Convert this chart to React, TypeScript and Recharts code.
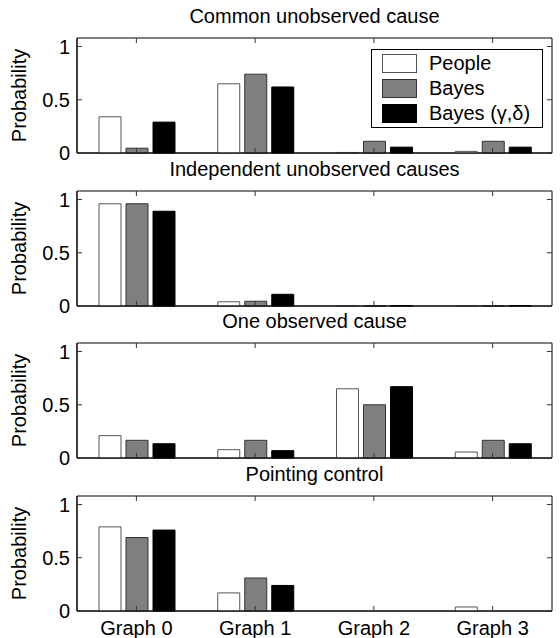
import { BarChart, Bar, XAxis, YAxis, ReferenceArea, Legend } from 'recharts';

const graphs = ['Graph 0', 'Graph 1', 'Graph 2', 'Graph 3'];
const titles = ['Common unobserved cause', 'Independent unobserved causes', 'One observed cause', 'Pointing control'];
const yTicks = [0, 0.5, 1];

const commonPeople = [0.34, 0.65, 0.005, 0.015];
const commonBayes = [0.045, 0.74, 0.11, 0.11];
const commonBayesGD = [0.29, 0.62, 0.055, 0.055];

const independentPeople = [0.96, 0.04, 0.002, 0.002];
const independentBayes = [0.96, 0.045, 0.003, 0.003];
const independentBayesGD = [0.89, 0.11, 0.003, 0.003];

const observedPeople = [0.21, 0.078, 0.65, 0.056];
const observedBayes = [0.166, 0.166, 0.5, 0.166];
const observedBayesGD = [0.134, 0.069, 0.67, 0.134];

const pointingPeople = [0.79, 0.17, 0, 0.038];
const pointingBayes = [0.69, 0.31, 0, 0];
const pointingBayesGD = [0.76, 0.24, 0, 0];

const panels = [
  [commonPeople, commonBayes, commonBayesGD],
  [independentPeople, independentBayes, independentBayesGD],
  [observedPeople, observedBayes, observedBayesGD],
  [pointingPeople, pointingBayes, pointingBayesGD],
];

const series = [
  { key: 'people', name: 'People', fill: '#ffffff', stroke: '#555555' },
  { key: 'bayes', name: 'Bayes', fill: '#7f7f7f', stroke: '#333333' },
  { key: 'bayesGD', name: 'Bayes (γ,δ)', fill: '#000000', stroke: '#000000' },
];

const FONT = '"Liberation Sans", Arial, Helvetica, sans-serif';
const PANEL_TOPS = [38, 191, 343, 496];
const PLOT_LEFT = 77;
const PLOT_RIGHT = 552;
const PLOT_TOP = 10;
const PLOT_H = 115;
const Y_MAX = 1.08;

const YTick = ({ x, y, payload }: any) => (
  <g>
    <line x1={PLOT_LEFT} x2={PLOT_LEFT + 5} y1={y} y2={y} stroke="#333" />
    <line x1={PLOT_RIGHT} x2={PLOT_RIGHT - 5} y1={y} y2={y} stroke="#333" />
    <text x={x} y={y} dy="0.36em" textAnchor="end" fontSize={20} fill="#000" fontFamily={FONT}>
      {payload.value}
    </text>
  </g>
);

const XTick = ({ x, payload, showLabel }: any) => {
  const bottom = PLOT_TOP + PLOT_H;
  return (
    <g>
      <line x1={x} x2={x} y1={bottom} y2={bottom - 5} stroke="#333" />
      <line x1={x} x2={x} y1={PLOT_TOP} y2={PLOT_TOP + 5} stroke="#333" />
      {showLabel && (
        <text x={x} y={bottom + 10} dy="0.71em" textAnchor="middle" fontSize={20} fill="#000" fontFamily={FONT}>
          {payload.value}
        </text>
      )}
    </g>
  );
};

const LegendBox = () => (
  <div style={{ width: 170, height: 77, border: '1px solid #000', background: '#fff', position: 'relative', fontFamily: FONT }}>
    {series.map((s, i) => (
      <div key={s.key} style={{ position: 'absolute', left: 10, top: 4 + i * 25, height: 19, display: 'flex', alignItems: 'center' }}>
        <span style={{ display: 'block', width: 33, height: 17, background: s.fill, border: `1px solid ${s.stroke}` }} />
        <span style={{ marginLeft: 12, fontSize: 20, lineHeight: '19px', color: '#000', whiteSpace: 'nowrap' }}>{s.name}</span>
      </div>
    ))}
  </div>
);

const App = () => (
  <div style={{ position: 'absolute', left: 0, top: 0, width: 560, height: 638, background: '#fff', fontFamily: FONT }}>
    {panels.map((values, p) => {
      const data = graphs.map((name, i) => ({
        name,
        people: values[0][i],
        bayes: values[1][i],
        bayesGD: values[2][i],
      }));
      return (
        <div key={titles[p]}>
          <div
            style={{
              position: 'absolute',
              left: PLOT_LEFT,
              width: PLOT_RIGHT - PLOT_LEFT,
              top: PANEL_TOPS[p] - 32,
              textAlign: 'center',
              fontSize: 20,
              lineHeight: '20px',
              color: '#000',
            }}
          >
            {titles[p]}
          </div>
          <div style={{ position: 'absolute', left: 0, top: PANEL_TOPS[p] - PLOT_TOP }}>
            <BarChart
              width={560}
              height={160}
              data={data}
              margin={{ top: PLOT_TOP, right: 560 - PLOT_RIGHT, bottom: 5, left: 0 }}
              barCategoryGap={22}
              barGap={5}
            >
              <XAxis
                dataKey="name"
                height={30}
                tickSize={0}
                tickMargin={10}
                interval={0}
                tickLine={false}
                axisLine={{ stroke: '#000' }}
                tick={<XTick showLabel={p === panels.length - 1} />}
              />
              <YAxis
                type="number"
                domain={[0, Y_MAX]}
                ticks={yTicks}
                interval={0}
                width={PLOT_LEFT}
                tickSize={0}
                tickMargin={7}
                tickLine={false}
                axisLine={{ stroke: '#000' }}
                tick={<YTick />}
                label={{
                  value: 'Probability',
                  angle: -90,
                  position: 'insideLeft',
                  offset: 19,
                  style: { textAnchor: 'middle', fontSize: 20, fill: '#000', fontFamily: FONT },
                }}
              />
              {series.map((s) => (
                <Bar key={s.key} dataKey={s.key} name={s.name} fill={s.fill} stroke={s.stroke} isAnimationActive={false} />
              ))}
              <ReferenceArea y1={0} y2={Y_MAX} fill="none" stroke="#000" ifOverflow="visible" />
              {p === 0 && (
                <Legend
                  layout="vertical"
                  align="center"
                  verticalAlign="middle"
                  wrapperStyle={{ left: 371, top: 49 - (PANEL_TOPS[0] - PLOT_TOP), width: 'auto' }}
                  content={() => <LegendBox />}
                />
              )}
            </BarChart>
          </div>
        </div>
      );
    })}
  </div>
);

export default App;
